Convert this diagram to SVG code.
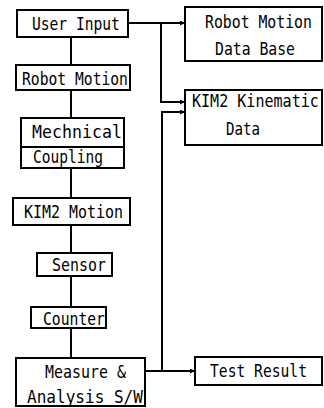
<svg xmlns="http://www.w3.org/2000/svg" width="324" height="408" viewBox="0 0 324 408">
<style>
rect.box{fill:#fff;stroke:#000;stroke-width:2}
text{font-family:"DejaVu Sans Mono","Liberation Mono",monospace;font-size:18.5px;fill:#000}
.c{fill:none;stroke:#000;stroke-width:2}
</style>
<defs>
<marker id="ah" viewBox="0 0 6 6" refX="6" refY="3" markerWidth="2.5" markerHeight="2.5" orient="auto" markerUnits="strokeWidth">
<path d="M0,0 L6,3 L0,6 z" fill="#000"/>
</marker>
</defs>
<rect width="324" height="408" fill="#fff"/>
<g id="connectors">
<path class="c" d="M71,37 V65"/>
<path class="c" d="M71,90 V118"/>
<path class="c" d="M71,168 V198"/>
<path class="c" d="M71,225 V253"/>
<path class="c" d="M71,276 V307"/>
<path class="c" d="M71,328 V358"/>
<path class="c" d="M128,23 H185" marker-end="url(#ah)"/>
<path class="c" d="M161,23 V102 H185" marker-end="url(#ah)"/>
<path class="c" d="M145,371 H195" marker-end="url(#ah)"/>
<path class="c" d="M162,371 V112 H185" marker-end="url(#ah)"/>
</g>
<g id="user-input">
<rect class="box" x="17" y="10" width="111" height="27"/>
<text transform="translate(32,30) scale(0.79,1)">User Input</text>
</g>
<g id="robot-motion">
<rect class="box" x="16" y="65" width="114" height="25"/>
<text transform="translate(22,85) scale(0.793,1)">Robot Motion</text>
</g>
<g id="mechnical-coupling">
<rect class="box" x="21" y="118" width="103" height="50"/>
<line x1="21" y1="147" x2="124" y2="147" stroke="#000" stroke-width="2"/>
<text transform="translate(32,138) scale(0.897,1)">Mechnical</text>
<text transform="translate(33,163) scale(0.785,1)">Coupling</text>
</g>
<g id="kim2-motion">
<rect class="box" x="13" y="198" width="117" height="27"/>
<text transform="translate(24,218) scale(0.808,1)">KIM2 Motion</text>
</g>
<g id="sensor">
<rect class="box" x="37" y="253" width="75" height="23"/>
<text transform="translate(52,271) scale(0.808,1)">Sensor</text>
</g>
<g id="counter">
<rect class="box" x="31" y="307" width="75" height="21"/>
<text transform="translate(43,325) scale(0.795,1)">Counter</text>
</g>
<g id="measure-analysis">
<rect class="box" x="16" y="358" width="129" height="48"/>
<text transform="translate(45,378) scale(0.808,1)">Measure &amp;</text>
<text transform="translate(27,403) scale(0.868,1)">Analysis S/W</text>
</g>
<g id="robot-motion-db">
<rect class="box" x="185" y="7" width="137" height="54"/>
<text transform="translate(205,28) scale(0.8,1)">Robot Motion</text>
<text transform="translate(215,55) scale(0.798,1)">Data Base</text>
</g>
<g id="kim2-kinematic-data">
<rect class="box" x="185" y="90" width="137" height="55"/>
<text transform="translate(192,107) scale(0.814,1)">KIM2 Kinematic</text>
<text transform="translate(226,135) scale(0.763,1)">Data</text>
</g>
<g id="test-result">
<rect class="box" x="195" y="357" width="127" height="28"/>
<text transform="translate(210,377) scale(0.792,1)">Test Result</text>
</g>
</svg>
